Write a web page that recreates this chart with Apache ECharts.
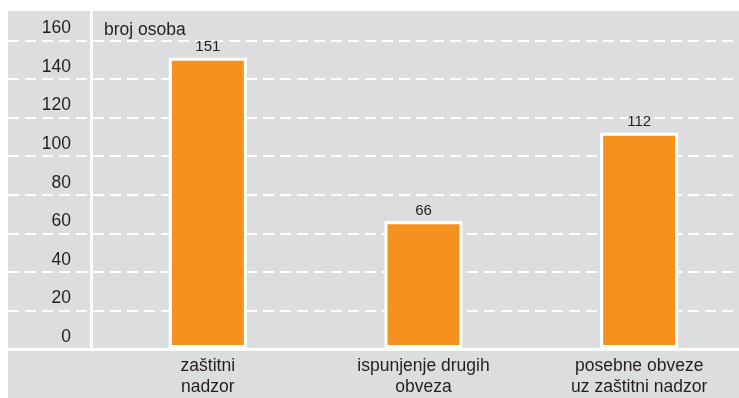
<!DOCTYPE html>
<html>
<head>
<meta charset="utf-8">
<script src="https://cdn.jsdelivr.net/npm/echarts@6/dist/echarts.min.js"></script>
<style>
  html, body { margin: 0; padding: 0; background: #ffffff; overflow: hidden; }
  #chart { width: 747px; height: 398px; }
</style>
</head>
<body>
<div id="chart"></div>
<script>
// Broj osoba po vrsti mjere
const categories = ['zaštitni\nnadzor', 'ispunjenje drugih\nobveza', 'posebne obveze\nuz zaštitni nadzor'];
const values = [151, 66, 112];
const axisTitle = 'broj osoba';
const yMin = 0, yMax = 160, yStep = 20;

const FONT = '"Liberation Sans", Arial, sans-serif';
const TEXT = '#231f20';
const PANEL = '#dcdddf';
const ORANGE = '#f6901e';

const chart = echarts.init(document.getElementById('chart'), null, { renderer: 'canvas' });

chart.setOption({
  backgroundColor: '#ffffff',
  animation: false,
  textStyle: { fontFamily: FONT },
  // grey panels: tick column, plot area and category band
  graphic: [
    { type: 'rect', z: -10, shape: { x: 8, y: 11, width: 82, height: 337 }, style: { fill: PANEL } },
    { type: 'rect', z: -10, shape: { x: 93, y: 11, width: 654, height: 337 }, style: { fill: PANEL } },
    { type: 'rect', z: -10, shape: { x: 8, y: 351, width: 739, height: 47 }, style: { fill: PANEL } }
  ],
  title: {
    text: axisTitle,
    left: 104,
    top: 21,
    padding: 0,
    textStyle: { fontFamily: FONT, fontSize: 17.5, fontWeight: 'normal', color: TEXT }
  },
  grid: [
    { left: 8, right: 0, top: 40.5, bottom: 49 },
    { left: 100, right: 0, top: 40.5, bottom: 49 }
  ],
  xAxis: [
    { type: 'value', gridIndex: 0, show: false, min: 0, max: 1 },
    {
      type: 'category',
      gridIndex: 1,
      data: categories,
      axisLine: { show: false },
      axisTick: { show: false },
      axisLabel: {
        margin: 8,
        fontFamily: FONT,
        fontSize: 17.5,
        lineHeight: 21,
        color: TEXT,
        interval: 0
      }
    }
  ],
  yAxis: [
    {
      type: 'value',
      gridIndex: 0,
      min: yMin,
      max: yMax,
      interval: yStep,
      axisLine: { show: false },
      axisTick: { show: false },
      splitLine: {
        show: true,
        lineStyle: { color: '#ffffff', width: 2, type: [11, 6] }
      },
      axisLabel: {
        inside: true,
        margin: 63,
        align: 'right',
        verticalAlign: 'bottom',
        padding: [0, 0, 3, 0],
        fontFamily: FONT,
        fontSize: 17.5,
        color: TEXT,
        showMinLabel: true,
        showMaxLabel: true
      }
    },
    {
      type: 'value',
      gridIndex: 1,
      min: yMin,
      max: yMax,
      interval: yStep,
      show: false
    }
  ],
  series: [
    {
      type: 'bar',
      xAxisIndex: 1,
      yAxisIndex: 1,
      data: values,
      barWidth: 78,
      itemStyle: { color: ORANGE, borderColor: '#ffffff', borderWidth: 3 },
      label: {
        show: true,
        position: 'top',
        distance: 3,
        fontFamily: FONT,
        fontSize: 15,
        color: TEXT
      }
    }
  ]
});
</script>
</body>
</html>
